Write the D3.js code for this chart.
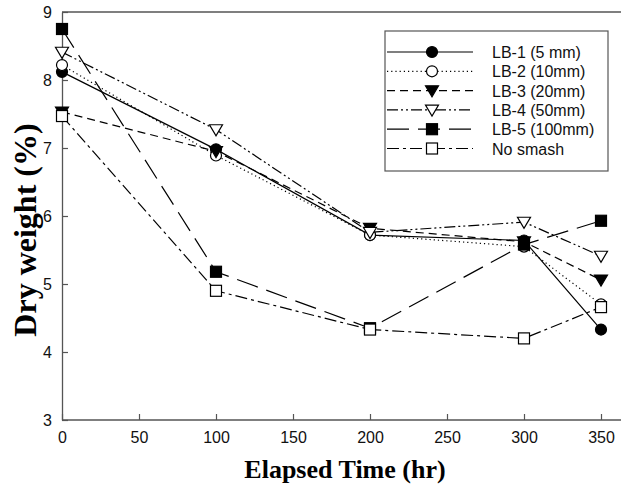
<!DOCTYPE html>
<html><head><meta charset="utf-8">
<script src="https://cdn.jsdelivr.net/npm/d3@7"></script>
<style>body{margin:0;background:#fff}</style>
</head><body>
<svg id="c" width="621" height="491"></svg>
<script>
const times = [0, 100, 200, 300, 350];
const seriesNames = ["LB-1 (5 mm)", "LB-2 (10mm)", "LB-3 (20mm)", "LB-4 (50mm)", "LB-5 (100mm)", "No smash"];
const lb1 = [8.12, 6.98, 5.72, 5.64, 4.33];
const lb2 = [8.22, 6.89, 5.72, 5.55, 4.70];
const lb3 = [7.53, 6.95, 5.82, 5.62, 5.06];
const lb4 = [8.41, 7.27, 5.76, 5.91, 5.41];
const lb5 = [8.75, 5.18, 4.35, 5.58, 5.93];
const noSmash = [7.47, 4.90, 4.33, 4.20, 4.66];
const xTicks = [0, 50, 100, 150, 200, 250, 300, 350];
const yTicks = [3, 4, 5, 6, 7, 8, 9];

const seriesValues = [lb1, lb2, lb3, lb4, lb5, noSmash];
const styles = [
  {dash: null, shape: "circle", fill: "#000"},
  {dash: "1.2,3", shape: "circle", fill: "#fff"},
  {dash: "8,5", shape: "tri", fill: "#000"},
  {dash: "11,3,2,3,2,3", shape: "tri", fill: "#fff"},
  {dash: "22,9", shape: "square", fill: "#000"},
  {dash: "12,4,3,4", shape: "square", fill: "#fff"}
];

const svg = d3.select("#c");
const L = 62, R = 621, T = 12, B = 420;
const x = d3.scaleLinear().domain([0, 350]).range([62, 601]);
const y = d3.scaleLinear().domain([3, 9]).range([B, T]);
const axisCol = "#555";

// frame top
svg.append("line").attr("x1", L).attr("x2", R).attr("y1", T).attr("y2", T).attr("stroke", axisCol).attr("stroke-width", 1.3);

const xAxis = svg.append("g").attr("transform", `translate(0,${B})`)
  .call(d3.axisBottom(x).tickValues(xTicks).tickFormat(d3.format("d")).tickSizeInner(-6).tickSizeOuter(0).tickPadding(12));
const yAxis = svg.append("g").attr("transform", `translate(${L},0)`)
  .call(d3.axisLeft(y).tickValues(yTicks).tickFormat(d3.format("d")).tickSizeInner(-6).tickSizeOuter(0).tickPadding(10));
[xAxis, yAxis].forEach(g => {
  g.select(".domain").attr("stroke", axisCol).attr("stroke-width", 1.3);
  g.selectAll(".tick line").attr("stroke", axisCol).attr("stroke-width", 1.2);
  g.selectAll("text").attr("font-family", "Liberation Sans, Arial, sans-serif").attr("font-size", 16).attr("fill", "#111");
});
xAxis.select(".domain").attr("d", `M${L},0H${R}`);

svg.append("text").attr("x", 345).attr("y", 478).attr("text-anchor", "middle")
  .attr("font-family", "Liberation Serif, Times New Roman, serif").attr("font-weight", "bold").attr("font-size", 26)
  .text("Elapsed Time (hr)");
svg.append("text").attr("transform", "translate(36,230) rotate(-90)").attr("text-anchor", "middle")
  .attr("font-family", "Liberation Serif, Times New Roman, serif").attr("font-weight", "bold").attr("font-size", 32)
  .text("Dry weight (%)");

const line = d3.line().x((d, i) => x(times[i])).y(d => y(d));

function marker(g, shape, fill, cx, cy) {
  if (shape === "circle") {
    g.append("circle").attr("cx", cx).attr("cy", cy).attr("r", 5.5).attr("fill", fill).attr("stroke", "#000").attr("stroke-width", 1.2);
  } else if (shape === "square") {
    g.append("rect").attr("x", cx - 5.5).attr("y", cy - 5.5).attr("width", 11).attr("height", 11).attr("fill", fill).attr("stroke", "#000").attr("stroke-width", 1.2);
  } else {
    const s = 6.5;
    g.append("path").attr("d", `M${cx - s},${cy - s * 0.75}L${cx + s},${cy - s * 0.75}L${cx},${cy + s * 0.95}Z`)
      .attr("fill", fill).attr("stroke", "#000").attr("stroke-width", 1.2);
  }
}

seriesValues.forEach((vals, k) => {
  const st = styles[k];
  svg.append("path").datum(vals).attr("d", line).attr("fill", "none").attr("stroke", "#000")
    .attr("stroke-width", 1.2).attr("stroke-dasharray", st.dash);
});
seriesValues.forEach((vals, k) => {
  const st = styles[k];
  const g = svg.append("g");
  vals.forEach((v, i) => marker(g, st.shape, st.fill, x(times[i]), y(v)));
});

// legend
const lg = svg.append("g");
lg.append("rect").attr("x", 385).attr("y", 31).attr("width", 223).attr("height", 140)
  .attr("fill", "#fff").attr("stroke", axisCol).attr("stroke-width", 1.2);
seriesNames.forEach((name, k) => {
  const st = styles[k];
  const yy = 52 + k * 19.3;
  lg.append("line").attr("x1", 387).attr("x2", 473).attr("y1", yy).attr("y2", yy)
    .attr("stroke", "#000").attr("stroke-width", 1.2).attr("stroke-dasharray", st.dash);
  marker(lg, st.shape, st.fill, 432, yy);
  lg.append("text").attr("x", 492).attr("y", yy + 6).attr("font-family", "Liberation Sans, Arial, sans-serif")
    .attr("font-size", 16).attr("fill", "#111").text(name);
});
</script>
</body></html>
